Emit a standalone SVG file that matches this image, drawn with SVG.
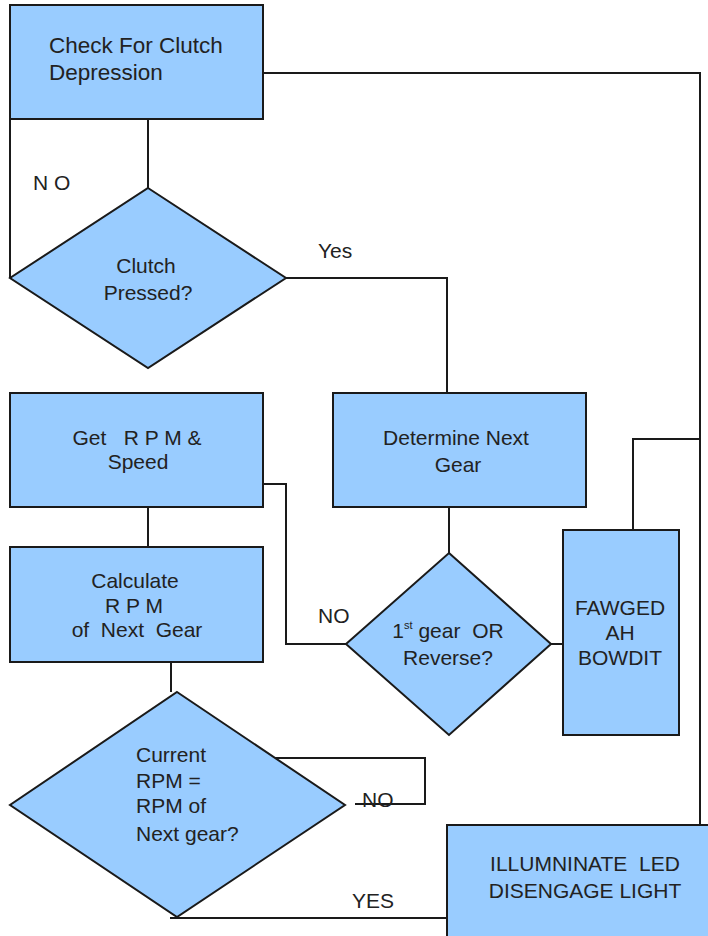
<svg xmlns="http://www.w3.org/2000/svg" width="708" height="936" viewBox="0 0 708 936">
<style>
.n{fill:#99CCFF;stroke:#1a1a1a;stroke-width:2}
.c{fill:none;stroke:#1a1a1a;stroke-width:2}
text{font-family:"Liberation Sans",Arial,sans-serif;font-size:21px;fill:#222;white-space:pre}
.m{text-anchor:middle}
</style>
<rect width="708" height="936" fill="#fff"/>
<g id="connectors">
<path class="c" d="M148,119 V188"/>
<path class="c" d="M10,119 V278"/>
<path class="c" d="M286,278 H447 V393"/>
<path class="c" d="M263,73 H700 V825"/>
<path class="c" d="M148,507 V547"/>
<path class="c" d="M263,484 H286 V644 H346"/>
<path class="c" d="M449,507 V553"/>
<path class="c" d="M551,644 H563"/>
<path class="c" d="M633,530 V439 H700"/>
<path class="c" d="M171,662 V692"/>
<path class="c" d="M264,758 H425 V804 H355"/>
<path class="c" d="M170,918 H447"/>
<text x="33" y="190">N O</text>
<text x="318" y="258">Yes</text>
<text x="318" y="623">NO</text>
<text x="362" y="807">NO</text>
<text x="352" y="908">YES</text>
</g>
<g id="check">
<rect class="n" x="10" y="5" width="253" height="114"/>
<text x="49" y="53" style="font-size:22.5px">Check For Clutch</text>
<text x="49" y="80" style="font-size:22.5px">Depression</text>
</g>
<g id="clutch">
<polygon class="n" points="148,188 286,278 148,368 10,278"/>
<text class="m" x="146" y="273">Clutch</text>
<text class="m" x="148" y="300">Pressed?</text>
</g>
<g id="getrpm">
<rect class="n" x="10" y="393" width="253" height="114"/>
<text class="m" x="137" y="445">Get   R P M &amp;</text>
<text class="m" x="138" y="469">Speed</text>
</g>
<g id="determine">
<rect class="n" x="333" y="393" width="253" height="114"/>
<text class="m" x="456" y="445">Determine Next</text>
<text class="m" x="458" y="472">Gear</text>
</g>
<g id="calculate">
<rect class="n" x="10" y="547" width="253" height="115"/>
<text class="m" x="135" y="588">Calculate</text>
<text class="m" x="134" y="613">R P M</text>
<text class="m" x="137" y="637">of  Next  Gear</text>
</g>
<g id="firstgear">
<polygon class="n" points="449,553 551,644 449,735 346,644"/>
<text class="m" x="448" y="638">1<tspan dy="-9" style="font-size:11px">st</tspan><tspan dy="9"> gear  OR</tspan></text>
<text class="m" x="448" y="665">Reverse?</text>
</g>
<g id="fawged">
<rect class="n" x="563" y="530" width="116" height="205"/>
<text class="m" x="620" y="615">FAWGED</text>
<text class="m" x="620" y="640">AH</text>
<text class="m" x="620" y="665">BOWDIT</text>
</g>
<g id="current">
<polygon class="n" points="177,692 345,805 177,917 10,805"/>
<text x="136" y="762">Current</text>
<text x="136" y="788">RPM =</text>
<text x="136" y="813">RPM of</text>
<text x="136" y="841">Next gear?</text>
</g>
<g id="illuminate">
<rect class="n" x="447" y="825" width="270" height="120"/>
<text class="m" x="585" y="871">ILLUMNINATE  LED</text>
<text class="m" x="585" y="898">DISENGAGE LIGHT</text>
</g>
</svg>
